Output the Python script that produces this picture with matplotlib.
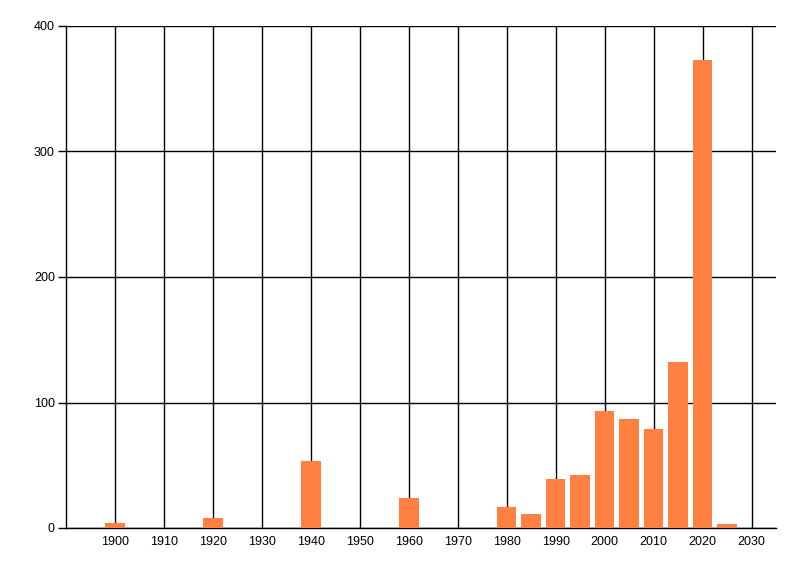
import matplotlib
matplotlib.use("Agg")
import matplotlib.pyplot as plt

years = [1900, 1920, 1940, 1960, 1980, 1985, 1990, 1995, 2000, 2005, 2010, 2015, 2020, 2025]
counts = [4, 8, 53, 24, 17, 11, 39, 42, 93, 87, 79, 132, 373, 3]
x_ticks = list(range(1900, 2031, 10))
y_ticks = [0, 100, 200, 300, 400]

plt.rcParams['font.family'] = ['Liberation Sans', 'DejaVu Sans']

fig = plt.figure(figsize=(8, 5.76), dpi=100)
ax = fig.add_axes([66/800, 1 - 528/576, 710/800, 502/576])

ax.set_axisbelow(True)
ax.bar(years, counts, width=4, color='#FF8040', zorder=3)

ax.set_xlim(1890, 2035)
ax.set_ylim(0, 400)
ax.set_xticks(x_ticks)
ax.set_yticks(y_ticks)
ax.grid(True, color='black', linewidth=1)
for s in ['top', 'right']:
    ax.spines[s].set_visible(False)
for s in ['left', 'bottom']:
    ax.spines[s].set_color('black')
    ax.spines[s].set_linewidth(1)
ax.tick_params(axis='x', length=0, pad=6, labelsize=9, colors='black')
ax.tick_params(axis='y', length=6, width=1, pad=2, labelsize=9, colors='black')

fig.savefig('out.png', dpi=100, facecolor='white')
